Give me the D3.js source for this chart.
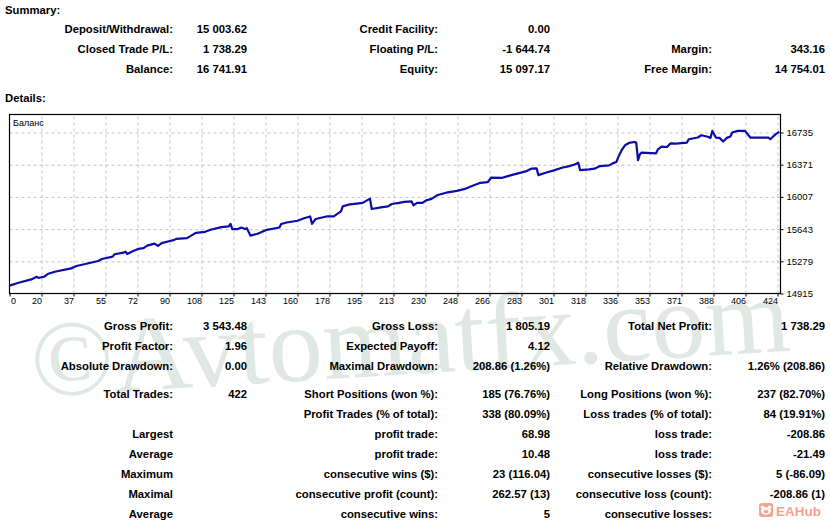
<!DOCTYPE html>
<html>
<head>
<meta charset="utf-8">
<script src="https://cdn.jsdelivr.net/npm/d3@7"></script>
<style>
  body { margin: 0; background: #fff; }
  text { font-family: "Liberation Sans", Arial, sans-serif; }
</style>
</head>
<body>
<div id="report"></div>
<script>
// ---- data ----
const xTickLabels = [0, 20, 37, 55, 72, 90, 108, 125, 143, 160, 178, 195, 213,
                     230, 248, 266, 283, 301, 318, 336, 353, 371, 388, 406, 424];
const yTickValues = [14915, 15279, 15643, 16007, 16371, 16735];

const trades = [0,5,12,15,16,19,21,25,34,37,
  49,51,57,58,63,64,65,68,71,74,
  76,80,82,84,88,91,92,98,101,103,
  108,111,117,121,122,123,126,128,130,131,
  133,137,142,149,150,153,159,163,166,167,
  169,175,179,183,184,187,195,199,200,205,
  209,211,215,218,222,223,225,228,230,233,
  236,242,247,252,255,260,264,266,272,277,
  285,288,291,292,296,301,305,309,312,314,
  315,320,323,326,331,333,335,336,338,340,
  342,345,346,347,348,349,357,358,360,363,
  365,368,374,375,380,382,385,387,388,390,
  392,394,396,398,399,402,406,409,419,420,
  423,425];

const balance = [15004,15036,15074,15104,15092,15104,15135,15161,15199,15226,
  15282,15305,15331,15359,15377,15388,15362,15393,15419,15427,
  15456,15479,15453,15484,15506,15521,15533,15541,15578,15601,
  15612,15635,15666,15673,15703,15643,15643,15661,15643,15654,
  15570,15590,15635,15661,15700,15718,15737,15768,15786,15703,
  15757,15786,15786,15843,15900,15919,15939,15988,15870,15889,
  15900,15927,15939,15950,15957,15911,15939,15939,15968,15984,
  16025,16059,16075,16101,16128,16166,16173,16226,16223,16253,
  16295,16326,16329,16253,16280,16310,16337,16355,16374,16394,
  16310,16318,16326,16355,16363,16386,16401,16451,16537,16594,
  16617,16628,16621,16423,16488,16508,16500,16545,16576,16571,
  16613,16610,16621,16659,16678,16704,16690,16674,16753,16678,
  16674,16633,16674,16690,16735,16753,16753,16678,16678,16659,
  16716,16742];

const summaryRows = [
  ["Deposit/Withdrawal:", "15 003.62", "Credit Facility:", "0.00", "", ""],
  ["Closed Trade P/L:", "1 738.29", "Floating P/L:", "-1 644.74", "Margin:", "343.16"],
  ["Balance:", "16 741.91", "Equity:", "15 097.17", "Free Margin:", "14 754.01"]
];

const detailRows = [
  ["Gross Profit:", "3 543.48", "Gross Loss:", "1 805.19", "Total Net Profit:", "1 738.29"],
  ["Profit Factor:", "1.96", "Expected Payoff:", "4.12", "", ""],
  ["Absolute Drawdown:", "0.00", "Maximal Drawdown:", "208.86 (1.26%)", "Relative Drawdown:", "1.26% (208.86)"],
  ["Total Trades:", "422", "Short Positions (won %):", "185 (76.76%)", "Long Positions (won %):", "237 (82.70%)"],
  ["", "", "Profit Trades (% of total):", "338 (80.09%)", "Loss trades (% of total):", "84 (19.91%)"],
  ["Largest", "", "profit trade:", "68.98", "loss trade:", "-208.86"],
  ["Average", "", "profit trade:", "10.48", "loss trade:", "-21.49"],
  ["Maximum", "", "consecutive wins ($):", "23 (116.04)", "consecutive losses ($):", "5 (-86.09)"],
  ["Maximal", "", "consecutive profit (count):", "262.57 (13)", "consecutive loss (count):", "-208.86 (1)"],
  ["Average", "", "consecutive wins:", "5", "consecutive losses:", ""]
];

// ---- layout ----
const width = 830, height = 525;
const colRight = [173, 247, 438, 550, 712, 825];
const summaryY = [29, 49, 69];
const detailY = [326, 346, 366, 394, 414, 434, 454, 474, 494, 514];
const frame = { left: 9.5, right: 780.5, top: 114.5, bottom: 293.5 };

const svg = d3.select("#report").append("svg")
  .attr("width", width)
  .attr("height", height);

// watermark sits under everything
svg.append("text")
  .attr("x", 33).attr("y", 397)
  .attr("transform", "rotate(-3.5,33,397)")
  .attr("textLength", 760)
  .attr("lengthAdjust", "spacingAndGlyphs")
  .style("font-family", "'Liberation Serif', 'DejaVu Serif', serif")
  .style("font-size", "108px")
  .attr("fill", "#dfe8e2")
  .text("©Avtomatfx.com");

// headings
svg.append("text").attr("x", 5).attr("y", 13.5)
  .style("font-size", "11.3px").style("font-weight", "bold").text("Summary:");
svg.append("text").attr("x", 5).attr("y", 101.5)
  .style("font-size", "11.3px").style("font-weight", "bold").text("Details:");

function drawTable(rows, ys) {
  rows.forEach((row, r) => {
    svg.append("g")
      .selectAll("text")
      .data(row)
      .join("text")
      .attr("x", (d, i) => colRight[i])
      .attr("y", ys[r] + 4)
      .attr("text-anchor", "end")
      .style("font-size", "11.3px")
      .style("font-weight", "bold")
      .attr("fill", "#000")
      .text(d => d);
  });
}
drawTable(summaryRows, summaryY);
drawTable(detailRows, detailY);

// ---- balance chart ----
const x = d3.scaleLinear().domain([0, 424]).range([frame.left, 777.5]);
const y = d3.scaleLinear().domain([14915, 16735]).range([frame.bottom, 132.5]);
const xTickPos = xTickLabels.map((d, i) => i * 424 / 24);

const chart = svg.append("g");

// grid
chart.append("g")
  .attr("transform", `translate(0,${frame.bottom})`)
  .call(d3.axisBottom(x).tickValues(xTickPos.slice(1)).tickSize(-(frame.bottom - frame.top)).tickFormat(""))
  .call(g => g.select(".domain").remove())
  .call(g => g.selectAll("line").attr("stroke", "#c4c4c4").attr("stroke-dasharray", "3,3"));
chart.append("g")
  .attr("transform", `translate(${frame.left},0)`)
  .call(d3.axisRight(y).tickValues(yTickValues.slice(1)).tickSize(frame.right - frame.left).tickFormat(""))
  .call(g => g.select(".domain").remove())
  .call(g => g.selectAll("line").attr("stroke", "#c4c4c4").attr("stroke-dasharray", "3,3"));

// axes
chart.append("g")
  .attr("transform", `translate(0,${frame.bottom})`)
  .call(d3.axisBottom(x).tickValues(xTickPos).tickSize(3).tickPadding(1)
    .tickFormat((d, i) => xTickLabels[i]))
  .call(g => g.select(".domain").remove())
  .call(g => g.selectAll("line").attr("stroke", "#000"))
  .call(g => g.selectAll("text")
    .attr("text-anchor", (d, i) => i === 0 ? "start" : "end")
    .attr("x", (d, i) => i === 0 ? 1 : 0)
    .attr("fill", "#000")
    .style("font-size", "9px")
    .style("font-family", "'Liberation Sans', Arial, sans-serif"));

chart.append("g")
  .attr("transform", `translate(${frame.right},0)`)
  .call(d3.axisRight(y).tickValues(yTickValues).tickSize(3).tickPadding(3).tickFormat(d3.format("d")))
  .call(g => g.select(".domain").remove())
  .call(g => g.selectAll("line").attr("stroke", "#000"))
  .call(g => g.selectAll("text")
    .attr("fill", "#000")
    .style("font-size", "9.5px")
    .style("font-family", "'Liberation Sans', Arial, sans-serif"));

chart.append("rect")
  .attr("x", frame.left).attr("y", frame.top)
  .attr("width", frame.right - frame.left)
  .attr("height", frame.bottom - frame.top)
  .attr("fill", "none")
  .attr("stroke", "#000")
  .attr("stroke-width", 1.2);

chart.append("text")
  .attr("x", 13).attr("y", 126)
  .style("font-size", "9px")
  .attr("fill", "#000")
  .text("Баланс");

const line = d3.line()
  .x((d, i) => x(trades[i]))
  .y(d => y(d));

chart.append("path")
  .datum(balance)
  .attr("d", line)
  .attr("fill", "none")
  .attr("stroke", "#0c0cac")
  .attr("stroke-width", 2.2)
  .attr("stroke-linejoin", "round");

// ---- EAHub badge ----
const badge = svg.append("g").attr("transform", "translate(759,503)");
badge.append("rect").attr("width", 14).attr("height", 14).attr("rx", 3).attr("fill", "#f6a38d");
badge.append("circle").attr("cx", 3.6).attr("cy", 4.2).attr("r", 1.8).attr("fill", "#fff");
badge.append("circle").attr("cx", 10.4).attr("cy", 4.2).attr("r", 1.8).attr("fill", "#fff");
badge.append("ellipse").attr("cx", 7).attr("cy", 8).attr("rx", 5).attr("ry", 3.8).attr("fill", "#fff");
badge.append("ellipse").attr("cx", 7).attr("cy", 8.6).attr("rx", 2.6).attr("ry", 1.6).attr("fill", "#f6a38d");
svg.append("text")
  .attr("x", 776).attr("y", 516)
  .style("font-size", "13.5px").style("font-weight", "bold")
  .attr("fill", "#f6a38d")
  .text("EAHub");
</script>
</body>
</html>
